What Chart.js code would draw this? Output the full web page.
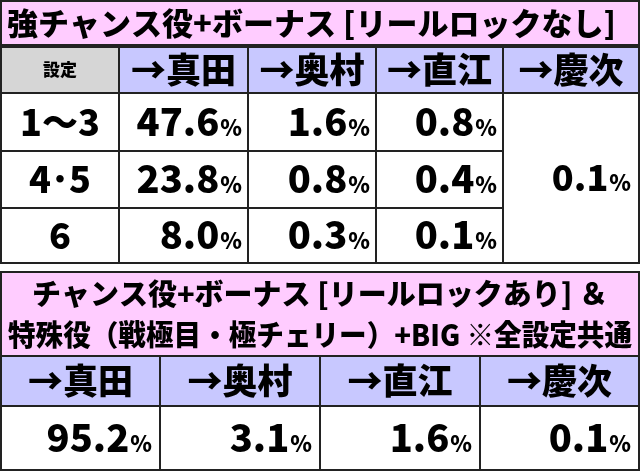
<!DOCTYPE html>
<html><head><meta charset="utf-8">
<script src="https://cdn.jsdelivr.net/npm/chart.js@4"></script>
<style>html,body{margin:0;padding:0;background:#fff}#wrap{width:640px;height:471px}</style>
</head><body><div id="wrap"><canvas id="c"></canvas></div>
<script>
const title1 = '強チャンス役+ボーナス [リールロックなし]';
const title2 = ['チャンス役+ボーナス [リールロックあり] ＆', '特殊役（戦極目・極チェリー）+BIG ※全設定共通'];
const settingLabel = '設定';
const targets = ['→真田', '→奥村', '→直江', '→慶次'];
const settings = ['1〜3', '4･5', '6'];
const sanada = [47.6, 23.8, 8.0];
const okumura = [1.6, 0.8, 0.3];
const naoe = [0.8, 0.4, 0.1];
const keiji = 0.1;
const common = [95.2, 3.1, 1.6, 0.1];

const PINK = '#ffccff', LAV = '#c8c8ff', GRAY = '#d6d6d6', LINE = '#222';
const FONT = '"Noto Sans CJK JP", sans-serif';

function pct(ctx, v, xr, yc, big, small) {
  const s = v.toFixed(1);
  ctx.textAlign = 'right'; ctx.textBaseline = 'alphabetic';
  ctx.font = '900 ' + small + 'px ' + FONT;
  const pw = ctx.measureText('%').width;
  ctx.fillText('%', xr, yc + big * 0.36);
  ctx.font = '900 ' + big + 'px ' + FONT;
  ctx.fillText(s, xr - pw - 1, yc + big * 0.36);
}

const tablePlugin = {
  id: 'table',
  afterDraw(chart) {
    const ctx = chart.ctx, X = v => chart.scales.x.getPixelForValue(v), Y = v => chart.scales.y.getPixelForValue(v);
    const box = (x0, y0, x1, y1, fill) => {
      ctx.fillStyle = fill; ctx.fillRect(X(x0), Y(y0), X(x1) - X(x0), Y(y1) - Y(y0));
      ctx.strokeStyle = LINE; ctx.lineWidth = 2; ctx.strokeRect(X(x0), Y(y0), X(x1) - X(x0), Y(y1) - Y(y0));
    };
    const text = (t, x, y, size, align, maxW) => {
      ctx.fillStyle = '#000'; ctx.font = '900 ' + size + 'px ' + FONT;
      ctx.textAlign = align || 'center'; ctx.textBaseline = 'middle';
      if (maxW) ctx.fillText(t, X(x), Y(y), maxW); else ctx.fillText(t, X(x), Y(y));
    };
    // table 1
    box(1, 1, 639, 45, PINK);
    text(title1, 7, 23, 31, 'left');
    const cols = [1, 119, 248, 376, 503, 639];
    const rows = [47, 93, 151, 208, 263];
    box(cols[0], rows[0], cols[1], rows[1], GRAY);
    text(settingLabel, 60, 70, 17);
    targets.forEach((t, i) => { box(cols[i + 1], rows[0], cols[i + 2], rows[1], LAV); text(t, (cols[i + 1] + cols[i + 2]) / 2, 70, 35); });
    const series = [sanada, okumura, naoe];
    settings.forEach((s, r) => {
      box(cols[0], rows[r + 1], cols[1], rows[r + 2], '#fff');
      text(s, 60, (rows[r + 1] + rows[r + 2]) / 2, 36);
      series.forEach((arr, c) => {
        box(cols[c + 1], rows[r + 1], cols[c + 2], rows[r + 2], '#fff');
        ctx.fillStyle = '#000';
        pct(ctx, arr[r], X(cols[c + 2] - 6), Y((rows[r + 1] + rows[r + 2]) / 2), 38, 22);
      });
    });
    box(cols[4], rows[1], cols[5], rows[4], '#fff');
    ctx.fillStyle = '#000';
    pct(ctx, keiji, X(cols[5] - 8), Y((rows[1] + rows[4]) / 2), 36, 22);
    // table 2
    box(1, 272, 639, 356, PINK);
    text(title2[0], 320, 294, 29);
    text(title2[1], 320, 335, 29, 'center', 624);
    const c2 = [1, 160, 320, 480, 639];
    targets.forEach((t, i) => { box(c2[i], 356, c2[i + 1], 406, LAV); text(t, (c2[i] + c2[i + 1]) / 2, 381, 35); });
    common.forEach((v, i) => {
      box(c2[i], 406, c2[i + 1], 470, '#fff');
      ctx.fillStyle = '#000';
      pct(ctx, v, X(c2[i + 1] - 8), Y(438), 38, 22);
    });
  }
};

new Chart(document.getElementById('c'), {
  type: 'scatter',
  data: { datasets: [{ data: [] }] },
  options: {
    responsive: true, maintainAspectRatio: false, animation: false,
    layout: { padding: 0 },
    plugins: { legend: { display: false }, tooltip: { enabled: false } },
    scales: {
      x: { type: 'linear', min: 0, max: 640, display: false },
      y: { type: 'linear', min: 0, max: 471, reverse: true, display: false }
    }
  },
  plugins: [tablePlugin]
});
</script></body></html>
